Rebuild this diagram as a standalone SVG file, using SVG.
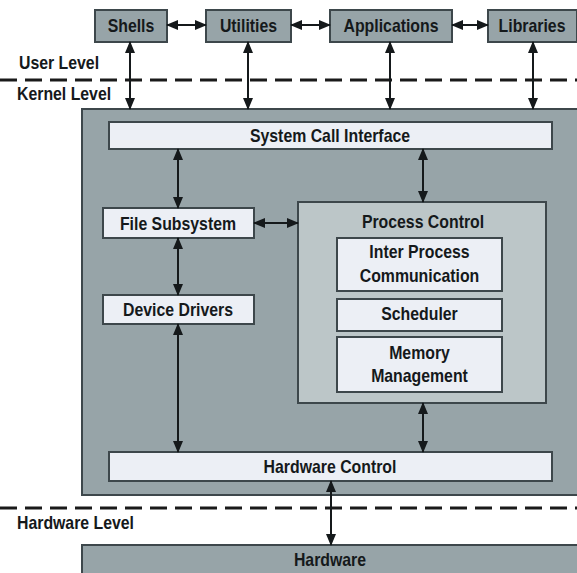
<svg xmlns="http://www.w3.org/2000/svg" width="577" height="573" viewBox="0 0 577 573">
  <style>
    .lbl { font-family: "Liberation Sans", Arial, sans-serif; font-weight: bold; font-size: 18px; fill: #15191b; text-anchor: middle; }
    .side { font-family: "Liberation Sans", Arial, sans-serif; font-weight: bold; font-size: 18px; fill: #15191b; }
    .gray { fill: #97a4a8; stroke: #3d474b; stroke-width: 2; }
    .light { fill: #eceff5; stroke: #3d474b; stroke-width: 2; }
    .pc { fill: #bcc6c8; stroke: #3d474b; stroke-width: 2; }
    .dash { stroke: #1a1a1a; stroke-width: 3; stroke-dasharray: 17 8; fill: none; }
    .conn line { stroke: #15191b; stroke-width: 2; marker-start: url(#head); marker-end: url(#head); }
  </style>
  <defs>
    <marker id="head" viewBox="0 0 12 10" refX="11" refY="5" markerWidth="12" markerHeight="10" markerUnits="userSpaceOnUse" orient="auto-start-reverse">
      <path d="M0,0 L12,5 L0,10 Z" fill="#15191b"/>
    </marker>
  </defs>

  <rect width="577" height="573" fill="#ffffff"/>

  <!-- level separators; labels are set in a narrowed bold face -->
  <line class="dash" x1="0" y1="80" x2="577" y2="80"/>
  <line class="dash" x1="0" y1="508" x2="577" y2="508"/>
  <text class="side" transform="translate(19 69) scale(0.88 1)">User Level</text>
  <text class="side" transform="translate(17 100) scale(0.88 1)">Kernel Level</text>
  <text class="side" transform="translate(17 529) scale(0.88 1)">Hardware Level</text>

  <!-- user level programs -->
  <g id="shells"><rect class="gray" x="95" y="10" width="72" height="32"/><text class="lbl" transform="translate(131 32) scale(0.88 1)">Shells</text></g>
  <g id="utilities"><rect class="gray" x="206" y="10" width="85" height="32"/><text class="lbl" transform="translate(248.5 32) scale(0.88 1)">Utilities</text></g>
  <g id="applications"><rect class="gray" x="330" y="10" width="122" height="32"/><text class="lbl" transform="translate(391 32) scale(0.88 1)">Applications</text></g>
  <g id="libraries"><rect class="gray" x="488" y="10" width="89" height="32"/><text class="lbl" transform="translate(532 32) scale(0.88 1)">Libraries</text></g>

  <!-- kernel -->
  <g id="kernel"><rect class="gray" x="82" y="109" width="497" height="386"/></g>
  <g id="system-call-interface"><rect class="light" x="109" y="122" width="443" height="27"/><text class="lbl" transform="translate(330 142) scale(0.88 1)">System Call Interface</text></g>
  <g id="file-subsystem"><rect class="light" x="103" y="208" width="151" height="30"/><text class="lbl" transform="translate(178 230) scale(0.88 1)">File Subsystem</text></g>
  <g id="device-drivers"><rect class="light" x="103" y="295" width="151" height="29"/><text class="lbl" transform="translate(178 316) scale(0.88 1)">Device Drivers</text></g>
  <g id="process-control">
    <rect class="pc" x="298" y="202" width="248" height="201"/>
    <text class="lbl" transform="translate(423 228) scale(0.88 1)">Process Control</text>
  </g>
  <g id="ipc"><rect class="light" x="337" y="238" width="165" height="53"/><text class="lbl" transform="translate(419.5 258) scale(0.88 1)">Inter Process</text><text class="lbl" transform="translate(419.5 282) scale(0.88 1)">Communication</text></g>
  <g id="scheduler"><rect class="light" x="337" y="299" width="165" height="32"/><text class="lbl" transform="translate(419.5 320) scale(0.88 1)">Scheduler</text></g>
  <g id="memory-management"><rect class="light" x="337" y="337" width="165" height="55"/><text class="lbl" transform="translate(419.5 359) scale(0.88 1)">Memory</text><text class="lbl" transform="translate(419.5 382) scale(0.88 1)">Management</text></g>
  <g id="hardware-control"><rect class="light" x="109" y="452" width="443" height="29"/><text class="lbl" transform="translate(330 473) scale(0.88 1)">Hardware Control</text></g>

  <!-- hardware -->
  <g id="hardware"><rect class="gray" x="82" y="545" width="497" height="32"/><text class="lbl" transform="translate(330 566) scale(0.88 1)">Hardware</text></g>

  <!-- connectors -->
  <g id="connectors" class="conn">
    <line x1="167" y1="25" x2="206" y2="25"/>
    <line x1="291" y1="25" x2="330" y2="25"/>
    <line x1="452" y1="25" x2="488" y2="25"/>
    <line x1="130" y1="42" x2="130" y2="109"/>
    <line x1="248" y1="42" x2="248" y2="109"/>
    <line x1="390" y1="42" x2="390" y2="109"/>
    <line x1="533" y1="42" x2="533" y2="109"/>
    <line x1="178" y1="149" x2="178" y2="208"/>
    <line x1="423" y1="149" x2="423" y2="202"/>
    <line x1="254" y1="223" x2="298" y2="223"/>
    <line x1="178" y1="238" x2="178" y2="295"/>
    <line x1="178" y1="324" x2="178" y2="452"/>
    <line x1="423" y1="403" x2="423" y2="452"/>
    <line x1="331" y1="481" x2="331" y2="545"/>
  </g>
</svg>
